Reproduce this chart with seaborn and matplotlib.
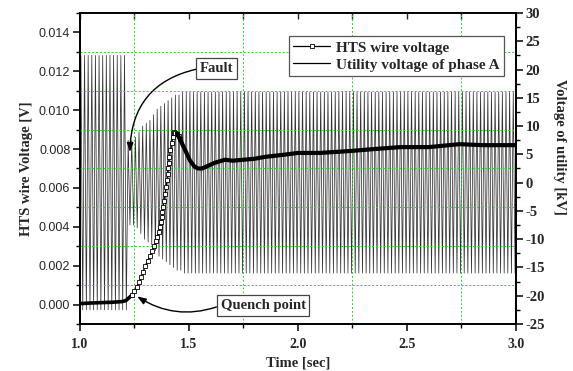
import numpy as np
import pandas as pd
import matplotlib
matplotlib.use('Agg')
import matplotlib.pyplot as plt
import seaborn as sns
from matplotlib.lines import Line2D
from matplotlib.ticker import MultipleLocator, FormatStrFormatter

# HTS wire voltage [V] (left axis)
t_hts = [1.00, 1.05, 1.10, 1.15, 1.19, 1.21, 1.225, 1.24,
         1.25, 1.26, 1.27, 1.28, 1.29, 1.30, 1.31, 1.32, 1.33, 1.34, 1.348, 1.355,
         1.361, 1.367, 1.371, 1.375, 1.378, 1.381, 1.385, 1.39, 1.395,
         1.399, 1.402, 1.405, 1.408, 1.41, 1.415, 1.42, 1.425, 1.431, 1.438, 1.445, 1.452, 1.459,
         1.48, 1.505, 1.525, 1.541, 1.56, 1.58, 1.62, 1.665, 1.70, 1.75,
         1.80, 1.85, 1.93, 2.00, 2.10, 2.24, 2.35, 2.47, 2.60, 2.74, 2.85, 3.00]
v_hts = [0.00005, 0.00008, 0.00010, 0.00012, 0.00015, 0.00020, 0.00035, 0.00050,
         0.00070, 0.00090, 0.00115, 0.00140, 0.00170, 0.00200, 0.00225, 0.00250, 0.00275, 0.00300, 0.00325, 0.00350,
         0.00375, 0.00400, 0.00425, 0.00450, 0.00475, 0.00500, 0.00535, 0.00570, 0.00605,
         0.00640, 0.00670, 0.00700, 0.00730, 0.00760, 0.00795, 0.00830, 0.00860, 0.00890, 0.00885, 0.00880, 0.00865, 0.00850,
         0.00800, 0.00740, 0.00710, 0.00700, 0.00700, 0.00710, 0.00730, 0.00745, 0.00740, 0.00745,
         0.00750, 0.00760, 0.00770, 0.00780, 0.00780, 0.00790, 0.00800, 0.00810, 0.00810, 0.00825, 0.00820, 0.00820]

# utility voltage of phase A [kV] (right axis): peak of each 60 Hz cycle
freq = 60.0
amp_kv = ([22.5] * 13
          + [7.5, 7.5, 8.0, 9.0, 10.0, 10.5, 11.0, 12.0, 13.0, 13.5, 14.0, 14.5, 15.0, 15.5, 15.5]
          + [16.0] * 92)

t_wave = [1.0]
v_wave = [0.0]
for k, a in enumerate(amp_kv):
    t_wave += [1.0 + (k + 0.25) / freq, 1.0 + (k + 0.75) / freq]
    v_wave += [a, -a]
t_wave.append(3.0)
v_wave.append(0.0)

hts = pd.DataFrame({'t': t_hts, 'v': v_hts})
wave = pd.DataFrame({'t': t_wave, 'v': v_wave})

sns.set_theme(style='ticks')
plt.rcParams['font.family'] = ['Liberation Serif', 'DejaVu Serif']
plt.rcParams['axes.unicode_minus'] = False
serif_b = dict(family='Liberation Serif', weight='bold')

fig = plt.figure(figsize=(5.73, 3.71), dpi=100)
ax1 = fig.add_axes([0.1396, 0.1267, 0.7609, 0.8383])
ax2 = ax1.twinx()
ax1.set_zorder(2)
ax1.patch.set_visible(False)

# utility voltage on right axis
sns.lineplot(data=wave, x='t', y='v', ax=ax2, color='#333333', lw=0.55,
             estimator=None, errorbar=None, sort=False)

# HTS voltage on left axis
pre = hts[hts.t <= 1.24]
rise = hts[(hts.t >= 1.24) & (hts.t <= 1.46)]
post = hts[hts.t >= 1.445]
sns.lineplot(data=pre, x='t', y='v', ax=ax1, color='black', lw=2.6,
             estimator=None, errorbar=None)
sns.lineplot(data=rise, x='t', y='v', ax=ax1, color='black', lw=0.9,
             marker='s', markersize=3.0, markerfacecolor='white',
             markeredgecolor='black', markeredgewidth=0.6,
             estimator=None, errorbar=None)
sns.lineplot(data=post, x='t', y='v', ax=ax1, color='black', lw=3.0,
             estimator=None, errorbar=None)

ax1.set_xlim(1.0, 3.0)
ax1.set_ylim(-0.001, 0.015)
ax2.set_ylim(-25, 30)

ax1.xaxis.set_major_locator(MultipleLocator(0.5))
ax1.xaxis.set_minor_locator(MultipleLocator(0.25))
ax1.xaxis.set_major_formatter(FormatStrFormatter('%.1f'))
ax1.yaxis.set_major_locator(MultipleLocator(0.002))
ax1.yaxis.set_minor_locator(MultipleLocator(0.001))
ax1.yaxis.set_major_formatter(FormatStrFormatter('%.3f'))
ax2.yaxis.set_major_locator(MultipleLocator(5))
ax2.yaxis.set_minor_locator(MultipleLocator(2.5))

grid_kw = dict(color='#22dd22', linestyle=(0, (2, 2)), linewidth=0.7)
ax1.grid(False)
ax2.grid(False)
ax1.grid(which='minor', axis='both', **grid_kw)

for ax in (ax1, ax2):
    for s in ax.spines.values():
        s.set_linewidth(1.3)
        s.set_color('black')

ax1.tick_params(axis='both', which='major', direction='out', length=5, width=1.1,
                color='black', pad=2)
ax1.tick_params(axis='x', which='major', pad=5)
ax1.tick_params(axis='both', which='minor', direction='out', length=3, width=1.0,
                color='black')
ax2.tick_params(axis='y', which='major', direction='out', length=5, width=1.1,
                color='black', pad=2)
ax2.tick_params(axis='y', which='minor', direction='out', length=3, width=1.0,
                color='black')

top = ax1.secondary_xaxis('top')
top.xaxis.set_major_locator(MultipleLocator(0.5))
top.xaxis.set_minor_locator(MultipleLocator(0.25))
top.tick_params(which='both', direction='in', labeltop=False, length=4, width=1.0)

for lab in ax1.get_yticklabels():
    lab.set_fontfamily('Liberation Sans')
    lab.set_fontsize(9)
for lab in ax1.get_xticklabels():
    lab.set_fontproperties(serif_b)
    lab.set_fontsize(10)
for lab in ax2.get_yticklabels():
    lab.set_fontproperties(serif_b)
    lab.set_fontsize(10.5)

ax1.set_xlabel('Time [sec]', fontsize=10.5, labelpad=4, **serif_b)
ax1.set_ylabel('HTS wire Voltage [V]', fontsize=10.5, labelpad=4, **serif_b)
ax2.set_ylabel('Voltage of utility [kV]', fontsize=10.5, rotation=-90, **serif_b)
ax2.yaxis.set_label_coords(1.115, 0.57)

# annotations
box = dict(boxstyle='square,pad=0.25', fc='white', ec='#444444', lw=0.9)
ax1.annotate('Fault', xy=(1.229, 0.00785), xytext=(1.628, 0.01215),
             ha='center', va='center', fontsize=10.5, bbox=box, **serif_b,
             arrowprops=dict(arrowstyle='-|>,head_length=0.5,head_width=0.18',
                             color='black', lw=1.0, relpos=(0, 0.5),
                             connectionstyle='arc3,rad=0.4', shrinkA=0, shrinkB=0))
ax1.annotate('Quench point', xy=(1.262, 0.00042), xytext=(1.84, -0.00005),
             ha='center', va='center', fontsize=10.5, bbox=box, **serif_b,
             arrowprops=dict(arrowstyle='-|>,head_length=0.5,head_width=0.18',
                             color='black', lw=1.0, relpos=(0, 0.5),
                             connectionstyle='arc3,rad=-0.25', shrinkA=0, shrinkB=0))

handles = [Line2D([], [], color='black', lw=0.9, marker='s', markersize=3,
                  markerfacecolor='white', markeredgecolor='black', markeredgewidth=0.6),
           Line2D([], [], color='black', lw=0.9)]
leg = ax1.legend(handles, ['HTS wire voltage', 'Utility voltage of phase A'],
                 loc='upper right', bbox_to_anchor=(0.991, 0.949), numpoints=1,
                 prop=dict(family='Liberation Serif', weight='bold', size=11),
                 frameon=True, fancybox=False, framealpha=1, edgecolor='#555555',
                 handlelength=2.4, handletextpad=0.4, borderpad=0.3, labelspacing=0.2)
leg.get_frame().set_linewidth(0.9)

fig.savefig('out.png', dpi=100)
